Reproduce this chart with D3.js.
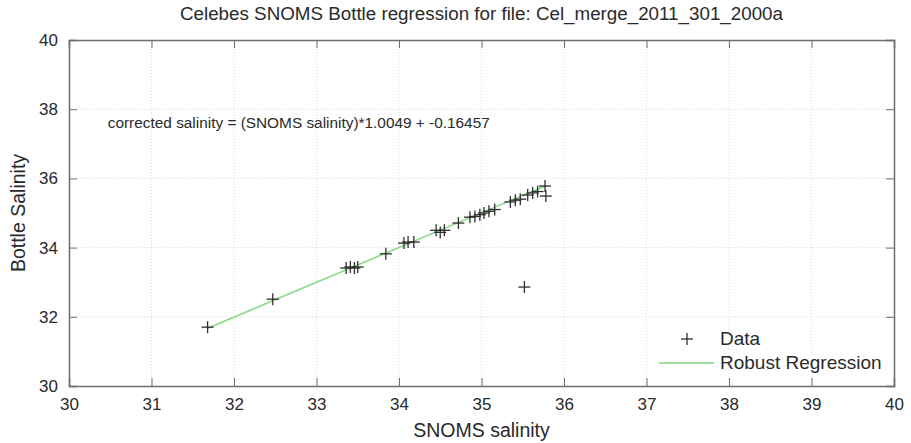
<!DOCTYPE html>
<html>
<head>
<meta charset="utf-8">
<script src="https://cdn.jsdelivr.net/npm/d3@7"></script>
<style>
  html, body { margin: 0; padding: 0; background: #fff; }
  svg { display: block; font-family: "Liberation Sans", Arial, sans-serif; }
</style>
</head>
<body>
<svg id="chart" width="911" height="443"></svg>
<script>
// SNOMS sensor salinity vs bottle samples
const snomsSalinity = [31.68, 32.47, 33.36, 33.41, 33.46, 33.50, 33.84, 34.06, 34.11, 34.18,
  34.45, 34.50, 34.55, 34.72, 34.86, 34.92, 34.98, 35.03, 35.09, 35.16,
  35.35, 35.41, 35.47, 35.56, 35.62, 35.68, 35.77, 35.78, 35.52];
const bottleSalinity = [31.70, 32.51, 33.41, 33.44, 33.41, 33.44, 33.82, 34.13, 34.16, 34.16,
  34.50, 34.44, 34.50, 34.71, 34.88, 34.90, 34.95, 35.00, 35.05, 35.10,
  35.32, 35.37, 35.40, 35.52, 35.58, 35.62, 35.78, 35.49, 32.86];

const slope = 1.0049;
const intercept = -0.16457;

const xTicks = [30, 31, 32, 33, 34, 35, 36, 37, 38, 39, 40];
const yTicks = [30, 32, 34, 36, 38, 40];

const titleText = "Celebes SNOMS Bottle regression for file: Cel_merge_2011_301_2000a";
const equationText = "corrected salinity = (SNOMS salinity)*1.0049 + -0.16457";
const legendLabels = ["Data", "Robust Regression"];

const svg = d3.select("#chart");
const margin = { left: 69, right: 17, top: 40, bottom: 57 };
const W = 911, H = 443;

const x = d3.scaleLinear().domain([30, 40]).range([margin.left, W - margin.right]);
const y = d3.scaleLinear().domain([30, 40]).range([H - margin.bottom, margin.top]);

const x0 = x.range()[0], x1 = x.range()[1];
const y0 = y.range()[0], y1 = y.range()[1];

const textColor = "#2a2a2a";
const gridColor = "#d9d9d9";
const frameColor = "#6e6e6e";

// dotted grid
const grid = svg.append("g");
grid.selectAll("line.gx").data(xTicks.slice(1, -1)).join("line")
  .attr("x1", d => x(d)).attr("x2", d => x(d))
  .attr("y1", y0).attr("y2", y1)
  .attr("stroke", gridColor).attr("stroke-width", 1)
  .attr("stroke-dasharray", "1,2");
grid.selectAll("line.gy").data(yTicks.slice(1, -1)).join("line")
  .attr("y1", d => y(d)).attr("y2", d => y(d))
  .attr("x1", x0).attr("x2", x1)
  .attr("stroke", gridColor).attr("stroke-width", 1)
  .attr("stroke-dasharray", "1,2");

// axes with inward ticks on all four sides
const tickLen = 8;
const fontSize = 17;
const bottomAxis = d3.axisBottom(x).tickValues(xTicks).tickSize(-tickLen).tickPadding(tickLen + 4).tickFormat(d3.format("d"));
const topAxis = d3.axisTop(x).tickValues(xTicks).tickSize(-tickLen).tickFormat("");
const leftAxis = d3.axisLeft(y).tickValues(yTicks).tickSize(-tickLen).tickPadding(tickLen + 3).tickFormat(d3.format("d"));
const rightAxis = d3.axisRight(y).tickValues(yTicks).tickSize(-tickLen).tickFormat("");

function styleAxis(g) {
  g.select(".domain").attr("stroke", frameColor).attr("stroke-width", 1.5);
  g.selectAll(".tick line").attr("stroke", frameColor);
  g.selectAll(".tick text").attr("fill", textColor).attr("font-size", fontSize)
    .attr("font-family", "'Liberation Sans', Arial, sans-serif");
}

svg.append("g").attr("transform", `translate(0,${y0})`).call(bottomAxis).call(styleAxis);
svg.append("g").attr("transform", `translate(0,${y1})`).call(topAxis).call(styleAxis);
svg.append("g").attr("transform", `translate(${x0},0)`).call(leftAxis).call(styleAxis);
svg.append("g").attr("transform", `translate(${x1},0)`).call(rightAxis).call(styleAxis);

// regression line across the range of SNOMS values
const [xmin, xmax] = d3.extent(snomsSalinity);
svg.append("line")
  .attr("x1", x(xmin)).attr("y1", y(slope * xmin + intercept))
  .attr("x2", x(xmax)).attr("y2", y(slope * xmax + intercept))
  .attr("stroke", "#86d986").attr("stroke-width", 1.6);

// data markers (+)
const m = 6;
const pts = svg.append("g").attr("stroke", "#2e2e2e").attr("stroke-width", 1.3);
snomsSalinity.forEach((sx, i) => {
  const px = x(sx), py = y(bottleSalinity[i]);
  pts.append("line").attr("x1", px - m).attr("x2", px + m).attr("y1", py).attr("y2", py);
  pts.append("line").attr("x1", px).attr("x2", px).attr("y1", py - m).attr("y2", py + m);
});

// equation annotation
svg.append("text")
  .attr("x", x(30.47)).attr("y", y(37.6) + 5)
  .attr("font-size", 14).attr("fill", textColor)
  .attr("textLength", 382).attr("lengthAdjust", "spacingAndGlyphs")
  .text(equationText);

// title
svg.append("text")
  .attr("x", (x0 + x1) / 2).attr("y", 20)
  .attr("text-anchor", "middle").attr("font-size", 17.5).attr("fill", textColor)
  .attr("textLength", 603).attr("lengthAdjust", "spacingAndGlyphs")
  .text(titleText);

// axis labels
svg.append("text")
  .attr("x", (x0 + x1) / 2).attr("y", 437)
  .attr("text-anchor", "middle").attr("font-size", 19.5).attr("fill", textColor)
  .text("SNOMS salinity");
svg.append("text")
  .attr("transform", `translate(25,${(y0 + y1) / 2}) rotate(-90)`)
  .attr("text-anchor", "middle").attr("font-size", 19.5).attr("fill", textColor)
  .text("Bottle Salinity");

// legend
const lg = svg.append("g");
const lx = 687, ly = 339;
lg.append("line").attr("x1", lx - m).attr("x2", lx + m).attr("y1", ly).attr("y2", ly).attr("stroke", "#2e2e2e").attr("stroke-width", 1.3);
lg.append("line").attr("x1", lx).attr("x2", lx).attr("y1", ly - m).attr("y2", ly + m).attr("stroke", "#2e2e2e").attr("stroke-width", 1.3);
lg.append("text").attr("x", 720).attr("y", ly + 6).attr("font-size", 19).attr("fill", textColor).text(legendLabels[0]);
lg.append("line").attr("x1", 659).attr("x2", 714).attr("y1", ly + 24).attr("y2", ly + 24).attr("stroke", "#86d986").attr("stroke-width", 1.6);
lg.append("text").attr("x", 720).attr("y", ly + 30).attr("font-size", 19).attr("fill", textColor).text(legendLabels[1]);
</script>
</body>
</html>
